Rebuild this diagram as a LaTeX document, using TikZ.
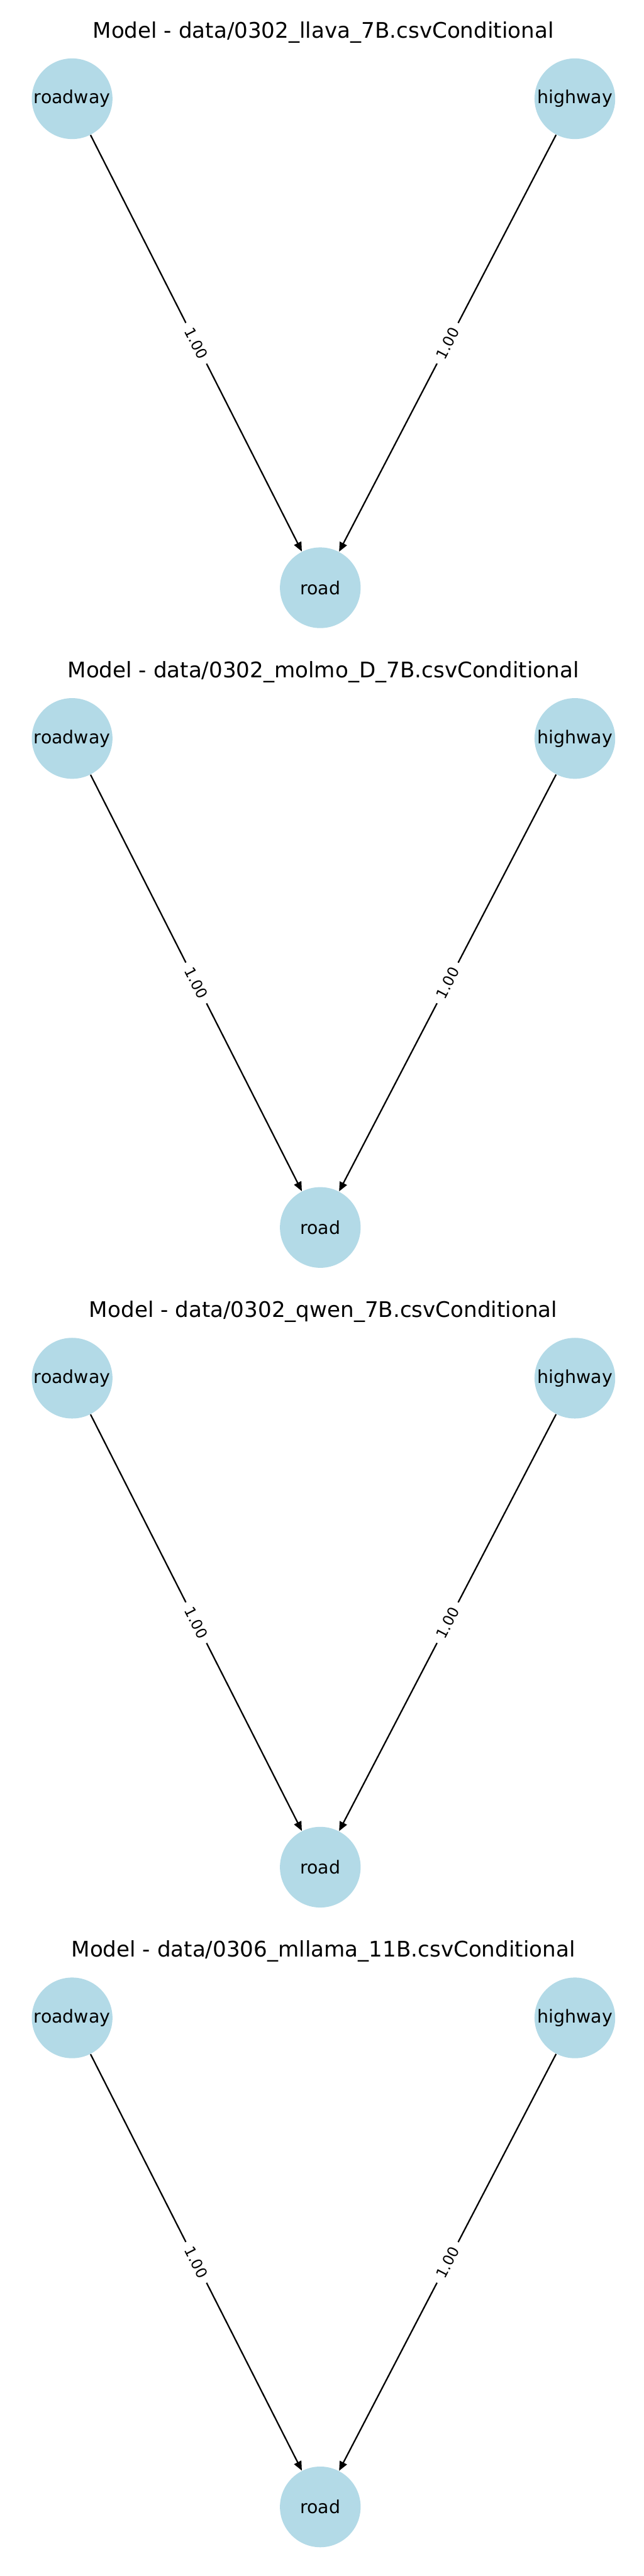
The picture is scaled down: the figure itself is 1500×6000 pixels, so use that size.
\documentclass[tikz,border=0pt]{standalone}
\usepackage{fontspec}
\setmainfont{DejaVu Sans}
\usetikzlibrary{arrows.meta}
\definecolor{nodeblue}{RGB}{179,218,231}

\begin{document}
\begin{tikzpicture}[x=0.24pt,y=-0.24pt,
        concept/.style={circle,fill=nodeblue,minimum size=45.1pt,inner sep=0pt,font=\fontsize{10}{12}\selectfont},
        link/.style={line width=0.8pt,-{Triangle[length=5.2pt,width=4.4pt]}},
        weight/.style={midway,sloped,fill=white,inner xsep=3.5pt,inner ysep=2pt,font=\fontsize{8.3}{10}\selectfont}]
        \useasboundingbox (0,0) rectangle (1500,6000);
        \foreach \k/\run in {0/0302\_llava\_7B,1/0302\_molmo\_D\_7B,2/0302\_qwen\_7B,3/0306\_mllama\_11B}{
            \pgfmathsetmacro{\oy}{1490*\k}
            \node[anchor=base,font=\fontsize{12}{14}\selectfont] (title\k) at (753,88+\oy) {Model - data/\run.csvConditional};
            \node[concept] (roadway\k) at (168,230+\oy) {roadway};
            \node[concept] (highway\k) at (1339,230+\oy) {highway};
            \node[concept] (road\k) at (746,1369+\oy) {road};
            \draw[link] (roadway\k) -- node[weight]{1.00} (road\k);
            \draw[link] (highway\k) -- node[weight]{1.00} (road\k);
        }
    \end{tikzpicture}
\end{document}
